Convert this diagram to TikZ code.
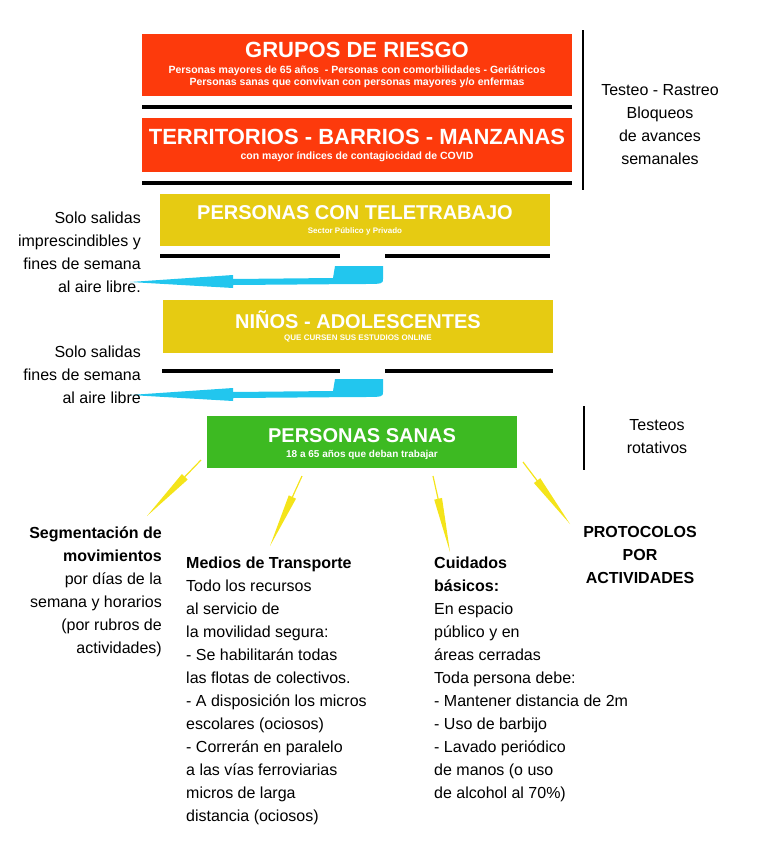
\documentclass[tikz,border=0pt]{standalone}
\usepackage{fontspec}
\setmainfont{Liberation Sans}
\usetikzlibrary{calc,positioning}
\definecolor{riesgo}{HTML}{FD3A0C}
\definecolor{mostaza}{HTML}{E6CB12}
\definecolor{sano}{HTML}{3DBA22}
\definecolor{celeste}{HTML}{22C6EE}
\definecolor{flecha}{HTML}{F4E41A}
\tikzset{
  caja/.style={inner sep=0pt, text=white, align=center},
  raya/.style={line width=3.5pt},
  txt/.style={inner sep=0pt, font=\fontsize{16}{23}\selectfont}
}
\newcommand{\rayito}[2]{%
  \draw[flecha, line width=1.2pt] (#1) -- ($(#1)!0.35!(#2)$);
  \fill[flecha] ($(#1)!0.3!(#2)!4pt!90:(#2)$) -- (#2) -- ($(#1)!0.3!(#2)!4pt!-90:(#2)$) -- cycle;}
\newcommand{\retorno}[1]{%
  \fill[celeste] (130,#1+17) -- (233,#1+10) -- (233,#1+14) -- (333,#1+13)
    -- (335,#1+1) -- (383,#1+1) -- (383,#1+14) .. controls (383,#1+19) .. (360,#1+19)
    -- (233,#1+20) -- (233,#1+23) -- cycle;}
\begin{document}
\begin{tikzpicture}[x=1pt, y=-1pt]
  \useasboundingbox (0,0) rectangle (768,844);
  % franja roja
  \fill[riesgo] (142,34) rectangle (572,96);
  \fill[riesgo] (142,118) rectangle (572,172);
  \node[caja] (grupos) at (357,50) {\fontsize{22}{24}\selectfont\bfseries GRUPOS DE RIESGO};
  \node[caja] (gruposb) at (357,77) {\fontsize{10.5}{14}\selectfont\bfseries Personas mayores de 65 años\ \ - Personas con comorbilidades - Geriátricos\\ \fontsize{10.5}{14}\selectfont\bfseries Personas sanas que convivan con personas mayores y/o enfermas};
  \node[caja] (territorios) at (357,137) {\fontsize{22}{24}\selectfont\bfseries TERRITORIOS - BARRIOS - MANZANAS};
  \node[caja] (territoriosb) at (357,157) {\fontsize{10.5}{12}\selectfont\bfseries con mayor índices de contagiocidad de COVID};
  \draw[raya] (142,107) -- (572,107);
  \draw[raya] (142,183) -- (572,183);
  \draw[line width=2pt] (583,30) -- (583,190);
  \node[txt, align=center] (testeo) at (660,125) {Testeo - Rastreo\\Bloqueos\\de avances\\semanales};
  % franjas amarillas
  \fill[mostaza] (160,194) rectangle (550,246);
  \node[caja] (teletrabajo) at (355,213) {\fontsize{20}{22}\selectfont\bfseries PERSONAS CON TELETRABAJO};
  \node[caja] (teletrabajob) at (355,231) {\fontsize{8}{10}\selectfont\bfseries Sector Público y Privado};
  \draw[raya] (160,256) -- (340,256);
  \draw[raya] (385,256) -- (550,256);
  \retorno{265}
  \node[txt, align=right, anchor=east] (salidas1) at (141,252) {Solo salidas\\imprescindibles y\\fines de semana\\al aire libre.};
  \fill[mostaza] (163,300) rectangle (553,353);
  \node[caja] (ninos) at (358,320) {\fontsize{20}{22}\selectfont\bfseries NIÑOS - ADOLESCENTES};
  \node[caja] (ninosb) at (358,338) {\fontsize{8}{10}\selectfont\bfseries QUE CURSEN SUS ESTUDIOS ONLINE};
  \draw[raya] (162,371) -- (340,371);
  \draw[raya] (385,371) -- (553,371);
  \retorno{378}
  \node[txt, align=right, anchor=east] (salidas2) at (141,375) {Solo salidas\\fines de semana\\al aire libre};
  % franja verde
  \fill[sano] (207,416) rectangle (517,468);
  \node[caja] (sanas) at (362,436) {\fontsize{20}{22}\selectfont\bfseries PERSONAS SANAS};
  \node[caja] (sanasb) at (362,455) {\fontsize{10}{12}\selectfont\bfseries 18 a 65 años que deban trabajar};
  \draw[line width=2pt] (584,406) -- (584,470);
  \node[txt, align=center] (rotativos) at (657,437) {Testeos\\rotativos};
  % flechas
  \coordinate (a1) at (201,460); \coordinate (b1) at (147,516);
  \coordinate (a2) at (302,476); \coordinate (b2) at (270,546);
  \coordinate (a3) at (433,476); \coordinate (b3) at (450,552);
  \coordinate (a4) at (523,462); \coordinate (b4) at (570,524);
  \foreach \n in {1,...,4}{\rayito{a\n}{b\n}}
  % textos
  \node[txt, align=right, anchor=north east] (segmentacion) at (162,527) {\textbf{Segmentación de}\\\textbf{movimientos}\\por días de la\\semana y horarios\\(por rubros de\\actividades)};
  \node[txt, align=left, anchor=north west] (transporte) at (186,557) {\textbf{Medios de Transporte}\\Todo los recursos\\al servicio de\\la movilidad segura:\\- Se habilitarán todas\\las flotas de colectivos.\\- A disposición los micros\\escolares (ociosos)\\- Correrán en paralelo\\a las vías ferroviarias\\micros de larga\\distancia (ociosos)};
  \node[txt, align=left, anchor=north west] (cuidados) at (434,557) {\textbf{Cuidados}\\\textbf{básicos:}\\En espacio\\público y en\\áreas cerradas\\Toda persona debe:\\- Mantener distancia de 2m\\- Uso de barbijo\\- Lavado periódico\\de manos (o uso\\de alcohol al 70\%)};
  \node[txt, align=center, anchor=north] (protocolos) at (640,526) {\textbf{PROTOCOLOS}\\\textbf{POR}\\\textbf{ACTIVIDADES}};
\end{tikzpicture}
\end{document}
